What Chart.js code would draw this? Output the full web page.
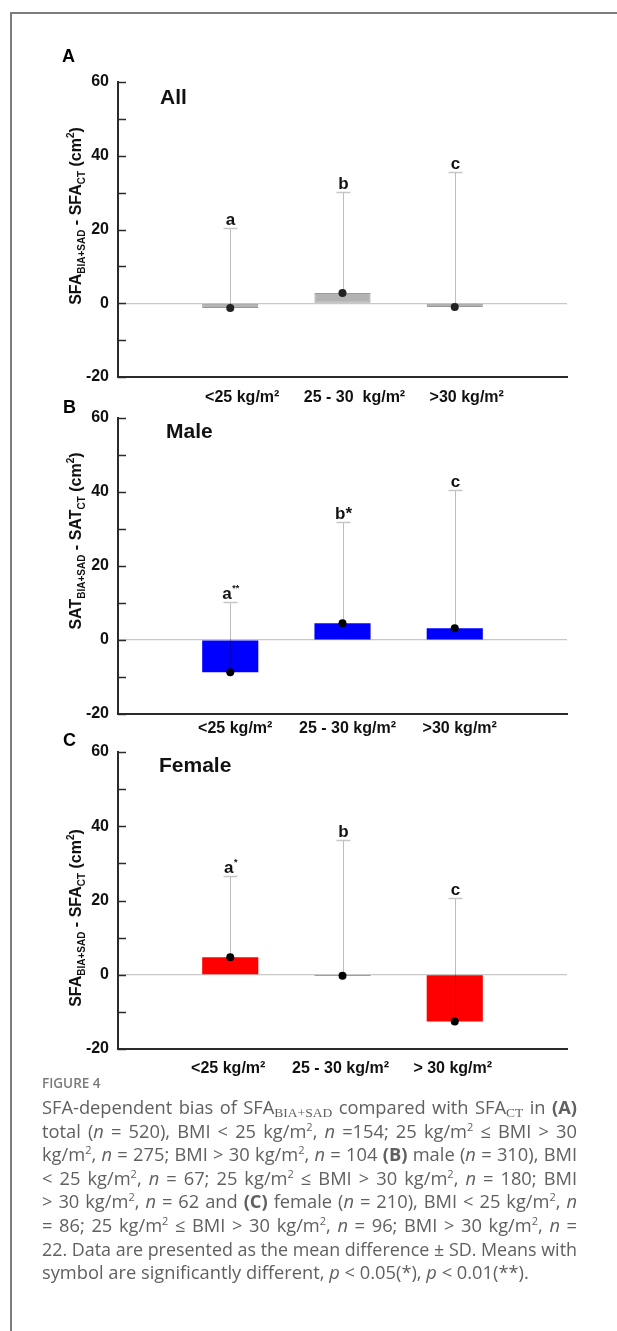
<!DOCTYPE html>
<html><head><meta charset="utf-8">
<script src="https://cdn.jsdelivr.net/npm/chart.js@4.4.1/dist/chart.umd.min.js"></script>
<style>
html,body{margin:0;padding:0;background:#fff;}
body{width:617px;height:1331px;position:relative;overflow:hidden;font-family:'Liberation Sans',Arial,sans-serif;}
.frame{position:absolute;left:10px;top:12px;right:-10px;bottom:-10px;border-top:2px solid #7d7d7d;border-left:2px solid #7d7d7d;}
canvas{position:absolute;left:0;}
.plabel{position:absolute;font-weight:bold;font-size:18px;color:#000;line-height:18px;white-space:nowrap;}
.ptitle{position:absolute;font-weight:bold;font-size:21px;color:#111;line-height:21px;white-space:nowrap;}
.fig{position:absolute;left:42px;top:1075px;font-family:'Open Sans',sans-serif;font-size:13.5px;line-height:16px;color:#7a7a7a;font-weight:600;}
.caption{position:absolute;left:42px;top:1095px;width:535px;font-family:'Open Sans',sans-serif;font-size:18.3px;color:#606060;line-height:23.6px;}
.caption .ln{white-space:nowrap;height:23.6px;}
.caption .ln span.in{display:inline-block;transform-origin:0 50%;}
.caption sub{font-family:'Liberation Serif',serif;font-size:13.5px;vertical-align:-3px;line-height:0;}
.caption sup{font-size:11px;vertical-align:7px;line-height:0;}
</style>
</head><body>
<div class="frame"></div>
<canvas id="cA" width="617" height="400"></canvas>
<canvas id="cB" width="617" height="401"></canvas>
<canvas id="cC" width="617" height="402"></canvas>

<div class="plabel" style="left:62px;top:47px;">A</div>
<div class="plabel" style="left:63px;top:398px;">B</div>
<div class="plabel" style="left:63px;top:731px;">C</div>
<div class="ptitle" style="left:160px;top:86px;">All</div>
<div class="ptitle" style="left:166px;top:420px;">Male</div>
<div class="ptitle" style="left:159px;top:754px;">Female</div>

<div class="fig">FIGURE 4</div>
<div class="caption">
<div class="ln"><span class="in">SFA-dependent bias of SFA<sub>BIA+SAD</sub> compared with SFA<sub>CT</sub> in <b>(A)</b></span></div>
<div class="ln"><span class="in">total (<i>n</i> = 520), BMI &lt; 25 kg/m<sup>2</sup>, <i>n</i> =154; 25 kg/m<sup>2</sup> ≤ BMI &gt; 30</span></div>
<div class="ln"><span class="in">kg/m<sup>2</sup>, <i>n</i> = 275; BMI &gt; 30 kg/m<sup>2</sup>, <i>n</i> = 104 <b>(B)</b> male (<i>n</i> = 310), BMI</span></div>
<div class="ln"><span class="in">&lt; 25 kg/m<sup>2</sup>, <i>n</i> = 67; 25 kg/m<sup>2</sup> ≤ BMI &gt; 30 kg/m<sup>2</sup>, <i>n</i> = 180; BMI</span></div>
<div class="ln"><span class="in">&gt; 30 kg/m<sup>2</sup>, <i>n</i> = 62 and <b>(C)</b> female (<i>n</i> = 210), BMI &lt; 25 kg/m<sup>2</sup>, <i>n</i></span></div>
<div class="ln"><span class="in">= 86; 25 kg/m<sup>2</sup> ≤ BMI &gt; 30 kg/m<sup>2</sup>, <i>n</i> = 96; BMI &gt; 30 kg/m<sup>2</sup>, <i>n</i> =</span></div>
<div class="ln"><span class="in">22. Data are presented as the mean difference ± SD. Means with</span></div>
<div class="ln last"><span class="in">symbol are significantly different, <i>p</i> &lt; 0.05(*), <i>p</i> &lt; 0.01(**).</span></div>
</div>

<script>
// ---------- data ----------
const xPos = [1, 2, 3];
const categoriesA = ['<25 kg/m²', '25 - 30  kg/m²', '>30 kg/m²'];
const categoriesB = ['<25 kg/m²', '25 - 30 kg/m²', '>30 kg/m²'];
const categoriesC = ['<25 kg/m²', '25 - 30 kg/m²', '> 30 kg/m²'];

const meanA = [-1.3, 2.8, -1.0];
const sdA   = [21.6, 27.3, 36.7];
const lettersA = ['a', 'b', 'c'];
const supsA    = ['', '', ''];

const meanB = [-8.7, 4.5, 3.2];
const sdB   = [19.1, 27.3, 37.3];
const lettersB = ['a', 'b*', 'c'];
const supsB    = ['**', '', ''];

const meanC = [4.7, -0.3, -12.6];
const sdC   = [22.0, 36.5, 33.4];
const lettersC = ['a', 'b', 'c'];
const supsC    = ['*', '', ''];

const yMin = -20, yMax = 60, yStep = 10;

const titleA = [['SFA',0],['BIA+SAD',1],[' - SFA',0],['CT',1],[' (cm',0],['2',2],[')',0]];
const titleB = [['SAT',0],['BIA+SAD',1],[' - SAT',0],['CT',1],[' (cm',0],['2',2],[')',0]];
const titleC = titleA;

// ---------- caption justification ----------
(function () {
  const W = 535;
  document.querySelectorAll('.caption .ln').forEach(ln => {
    const inner = ln.querySelector('.in');
    const w = inner.getBoundingClientRect().width;
    if (w > W) {
      inner.style.transform = 'scaleX(' + (W / w) + ')';
    } else if (!ln.classList.contains('last')) {
      const spaces = (inner.textContent.match(/ /g) || []).length;
      if (spaces) inner.style.wordSpacing = ((W - w) / spaces) + 'px';
    }
  });
})();

// ---------- drawing ----------
const FONT = "'Liberation Sans', Arial, sans-serif";

function makeChart(id, p) {
  const cv = document.getElementById(id);
  const canvasTop = p.top60 - 52;
  cv.style.top = canvasTop + 'px';
  const H = (p.bot - p.top60) + 52 + 53;
  cv.height = H;

  const overlay = {
    id: 'overlay_' + id,
    afterDatasetDraw(chart, args) {
      if (args.meta.type !== 'bar') return;
      const ctx = chart.ctx, xs = chart.scales.x, ys = chart.scales.y;
      ctx.save();
      p.means.forEach((m, i) => {
        const px = Math.round(xs.getPixelForValue(xPos[i])) + 0.5;
        const y0 = ys.getPixelForValue(m);
        const y1 = Math.round(ys.getPixelForValue(m + p.sds[i])) + 0.5;
        ctx.strokeStyle = 'rgba(0,0,0,0.26)';
        ctx.lineWidth = 1;
        ctx.beginPath(); ctx.moveTo(px, y0); ctx.lineTo(px, y1); ctx.stroke();
        ctx.strokeStyle = '#c6c6c6';
        ctx.lineWidth = 1.5;
        ctx.beginPath(); ctx.moveTo(px - 7, y1); ctx.lineTo(px + 7, y1); ctx.stroke();
        ctx.fillStyle = '#111';
        ctx.textBaseline = 'alphabetic';
        ctx.textAlign = 'left';
        ctx.font = 'bold 17px ' + FONT;
        const lw = ctx.measureText(p.letters[i]).width;
        ctx.font = 'bold 9px ' + FONT;
        const sw = p.sups[i] ? ctx.measureText(p.sups[i]).width : 0;
        const x0 = px - (lw + sw) / 2;
        ctx.font = 'bold 17px ' + FONT;
        ctx.fillText(p.letters[i], x0, y1 - 4);
        if (p.sups[i]) {
          ctx.font = 'bold 9px ' + FONT;
          ctx.fillText(p.sups[i], x0 + lw + 0.5, y1 - 12);
        }
      });
      ctx.restore();
    },
    afterDraw(chart) {
      const ctx = chart.ctx, ys = chart.scales.y, ca = chart.chartArea;
      ctx.save();
      ctx.strokeStyle = '#2a2a2a';
      ctx.lineWidth = 1.5;
      ys.ticks.forEach(t => {
        const y = Math.round(ys.getPixelForValue(t.value)) + 0.5;
        ctx.beginPath(); ctx.moveTo(ca.left, y); ctx.lineTo(ca.left + 8, y); ctx.stroke();
      });
      ctx.translate(75, p.titleY - canvasTop);
      ctx.rotate(-Math.PI / 2);
      ctx.fillStyle = '#111';
      ctx.textBaseline = 'alphabetic';
      ctx.textAlign = 'left';
      const sizes = [16, 10, 10];
      const offs = [0, 4, -7];
      let total = 0;
      p.title.forEach(([t, k]) => { ctx.font = 'bold ' + sizes[k] + 'px ' + FONT; total += ctx.measureText(t).width; });
      let x = -total / 2;
      p.title.forEach(([t, k]) => {
        ctx.font = 'bold ' + sizes[k] + 'px ' + FONT;
        ctx.fillText(t, x, 6 + offs[k]);
        x += ctx.measureText(t).width;
      });
      ctx.restore();
    }
  };

  return new Chart(cv.getContext('2d'), {
    type: 'bar',
    data: {
      datasets: [
        {
          type: 'bar',
          data: xPos.map((x, i) => ({ x: x, y: p.means[i] })),
          backgroundColor: p.fill,
          borderColor: p.border,
          borderWidth: p.bw,
          borderSkipped: false,
          categoryPercentage: 0.5,
          barPercentage: 1,
          order: 2
        },
        {
          type: 'scatter',
          data: xPos.map((x, i) => ({ x: x, y: p.means[i] })),
          pointRadius: 4,
          pointBackgroundColor: p.dot,
          pointBorderWidth: 0,
          order: 1
        }
      ]
    },
    options: {
      responsive: false,
      animation: false,
      devicePixelRatio: 1,
      layout: { padding: { top: 52, right: 50, bottom: 13, left: 0 } },
      plugins: { legend: { display: false }, tooltip: { enabled: false } },
      scales: {
        x: {
          type: 'linear', min: 0, max: 4, offset: false,
          afterBuildTicks: s => { s.ticks = xPos.map(v => ({ value: v })); },
          afterFit: s => { s.height = 40; },
          ticks: {
            autoSkip: false, maxRotation: 0, minRotation: 0,
            callback: v => { const i = xPos.indexOf(v); return i >= 0 ? p.cats[i] : ''; },
            font: { family: FONT, size: 16, weight: 'bold' },
            color: '#111', padding: p.xpad, labelOffset: p.lo
          },
          grid: { display: true, drawOnChartArea: false, drawTicks: false },
          border: { display: true, color: '#2a2a2a', width: 2 }
        },
        y: {
          min: yMin, max: yMax,
          afterFit: s => { s.width = 118; },
          ticks: {
            stepSize: yStep,
            callback: v => (v % 20 === 0 ? String(v) : ''),
            font: { family: FONT, size: 16, weight: 'bold' },
            color: '#111', padding: 9
          },
          grid: {
            drawTicks: false,
            color: c => (c.tick && c.tick.value === 0 ? '#c8c8c8' : 'rgba(0,0,0,0)'),
            lineWidth: 1.2
          },
          border: { display: true, color: '#2a2a2a', width: 2 }
        }
      }
    },
    plugins: [overlay]
  });
}

makeChart('cA', { top60: 82, bot: 377, titleY: 216, cats: categoriesA, means: meanA, sds: sdA,
  letters: lettersA, sups: supsA, title: titleA, fill: '#b3b3b3', border: '#999999', bw: 1, dot: '#222222', xpad: 11, lo: 12 });
makeChart('cB', { top60: 418, bot: 714, titleY: 541, cats: categoriesB, means: meanB, sds: sdB,
  letters: lettersB, sups: supsB, title: titleB, fill: '#0000ff', border: '#0000ff', bw: 0, dot: '#000000', xpad: 5, lo: 5 });
makeChart('cC', { top60: 752, bot: 1049, titleY: 918, cats: categoriesC, means: meanC, sds: sdC,
  letters: lettersC, sups: supsC, title: titleC, fill: '#ff0000', border: '#ff0000', bw: 0, dot: '#000000', xpad: 10, lo: -2 });
</script>
</body></html>
